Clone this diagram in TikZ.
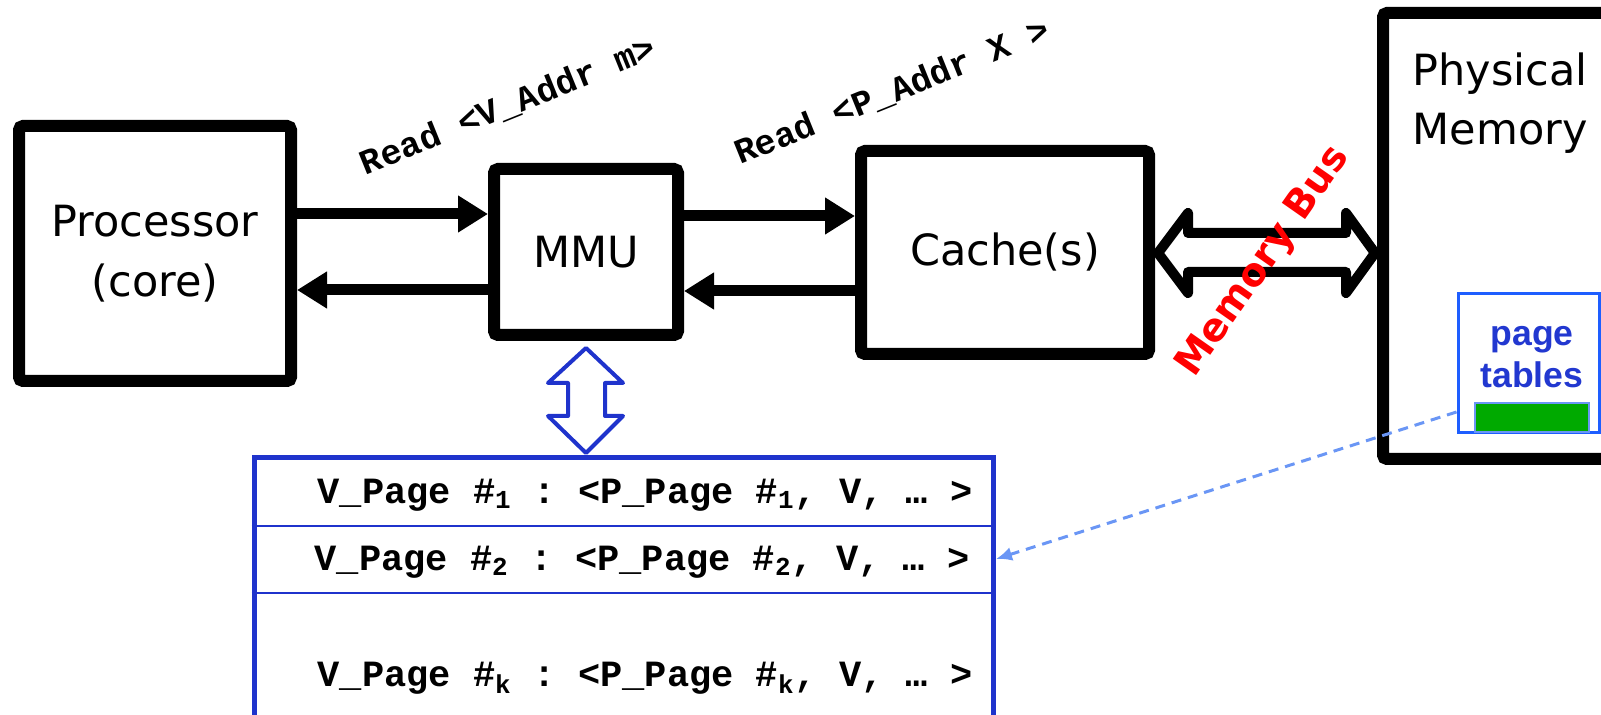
\documentclass[tikz,border=0pt]{standalone}
\usepackage{fontspec}
\setmainfont{DejaVu Sans}
\setmonofont{Liberation Mono}
\newfontfamily\arialfont{Liberation Sans}
\usetikzlibrary{arrows.meta}
\definecolor{tblblue}{HTML}{1F33CC}
\definecolor{ptblue}{HTML}{1E5EFF}
\definecolor{ptext}{HTML}{2238D0}
\definecolor{dashblue}{HTML}{6A96F5}
\definecolor{ptgreen}{HTML}{00AA00}
\newcommand{\pn}[1]{\textsubscript{#1}}
\begin{document}
\begin{tikzpicture}[x=0.5pt, y=0.5pt,
        unit/.style={draw, line width=6pt, rounded corners=2pt, inner sep=0pt, align=center, font=\fontsize{21.5}{30}\selectfont},
        flow/.style={line width=5.5pt, -{Triangle[length=15pt, width=17.5pt]}},
        addr/.style={font=\ttfamily\bfseries\fontsize{17.5}{20}\selectfont, rotate=22},
        entry/.style={font=\ttfamily\bfseries\fontsize{18.5}{20}\selectfont, inner sep=0pt}]
    \useasboundingbox (0, 0) rectangle (1601, -715);
    \node[unit, minimum width=136pt, minimum height=127.5pt] (proc) at (155, -253.5) {Processor\\(core)};
    \node[unit, minimum width=92pt, minimum height=83pt] (mmu) at (586, -252) {MMU};
    \node[unit, minimum width=144pt, minimum height=101.5pt] (cache) at (1005, -252.5) {Cache(s)};
    \node[unit, minimum width=120pt, minimum height=223pt] (phys) at (1503, -236) {};
    \node[align=center, font=\fontsize{21.5}{29.5}\selectfont] (physlbl) at (1500, -103) {Physical\\Memory};
    \draw[flow] (proc.east |- 0,-214) -- (mmu.west |- 0,-214);
    \draw[flow] (mmu.west |- 0,-290) -- (proc.east |- 0,-290);
    \draw[flow] (mmu.east |- 0,-216) -- (cache.west |- 0,-216);
    \draw[flow] (cache.west |- 0,-291) -- (mmu.east |- 0,-291);
    \node[addr] (rdv) at (508, -106) {Read <V\_Addr m>};
    \node[addr] (rdp) at (892, -92) {Read <P\_Addr X >};
    \draw[line width=5pt, line join=round, fill=white] (1158,-253) -- (1188,-213) -- (1188,-233) -- (1346,-233) -- (1346,-213) -- (1375,-253) -- (1346,-293) -- (1346,-272) -- (1188,-272) -- (1188,-293) -- cycle;
    \node[text=red, font=\bfseries\fontsize{19.5}{24}\selectfont, rotate=55] (bus) at (1264, -262) {Memory Bus};
    \node[draw=ptblue, line width=1.5pt, minimum width=70.5pt, minimum height=69.5pt, inner sep=0pt] (pt) at (1528.5, -363.5) {};
    \node[fill=ptgreen, draw=dashblue, line width=1pt, minimum width=57pt, minimum height=14.5pt, inner sep=0pt] (ptbar) at (1532, -417.5) {};
    \node[text=ptext, align=center, font=\arialfont\bfseries\fontsize{17.8}{21}\selectfont] (ptlbl) at (1532, -357) {page\\tables};
    \draw[tblblue, line width=2pt, line join=round, fill=white] (586,-348) -- (623,-383) -- (605,-383) -- (605,-416) -- (623,-416) -- (586,-453) -- (548,-416) -- (568,-416) -- (568,-383) -- (548,-383) -- cycle;
    \node[draw=tblblue, line width=2.5pt, minimum width=369.75pt, minimum height=151pt, inner sep=0pt] (tbl) at (623.75, -609) {};
    \draw[tblblue, line width=1pt] (tbl.west |- 0,-526) -- (tbl.east |- 0,-526);
    \draw[tblblue, line width=1pt] (tbl.west |- 0,-593) -- (tbl.east |- 0,-593);
    \node[entry] (row1) at (645, -495) {V\_Page \#\pn{1} : <P\_Page \#\pn{1}, V, … >};
    \node[entry] (row2) at (642, -562) {V\_Page \#\pn{2} : <P\_Page \#\pn{2}, V, … >};
    \node[entry] (rowk) at (645, -678) {V\_Page \#\pn{k} : <P\_Page \#\pn{k}, V, … >};
    \draw[dashblue, line width=1.5pt, dash pattern=on 5pt off 3.5pt, -{Latex[length=8pt, width=7pt]}] (pt.west |- 0,-412) -- (tbl.east |- 0,-559);
\end{tikzpicture}
\end{document}
